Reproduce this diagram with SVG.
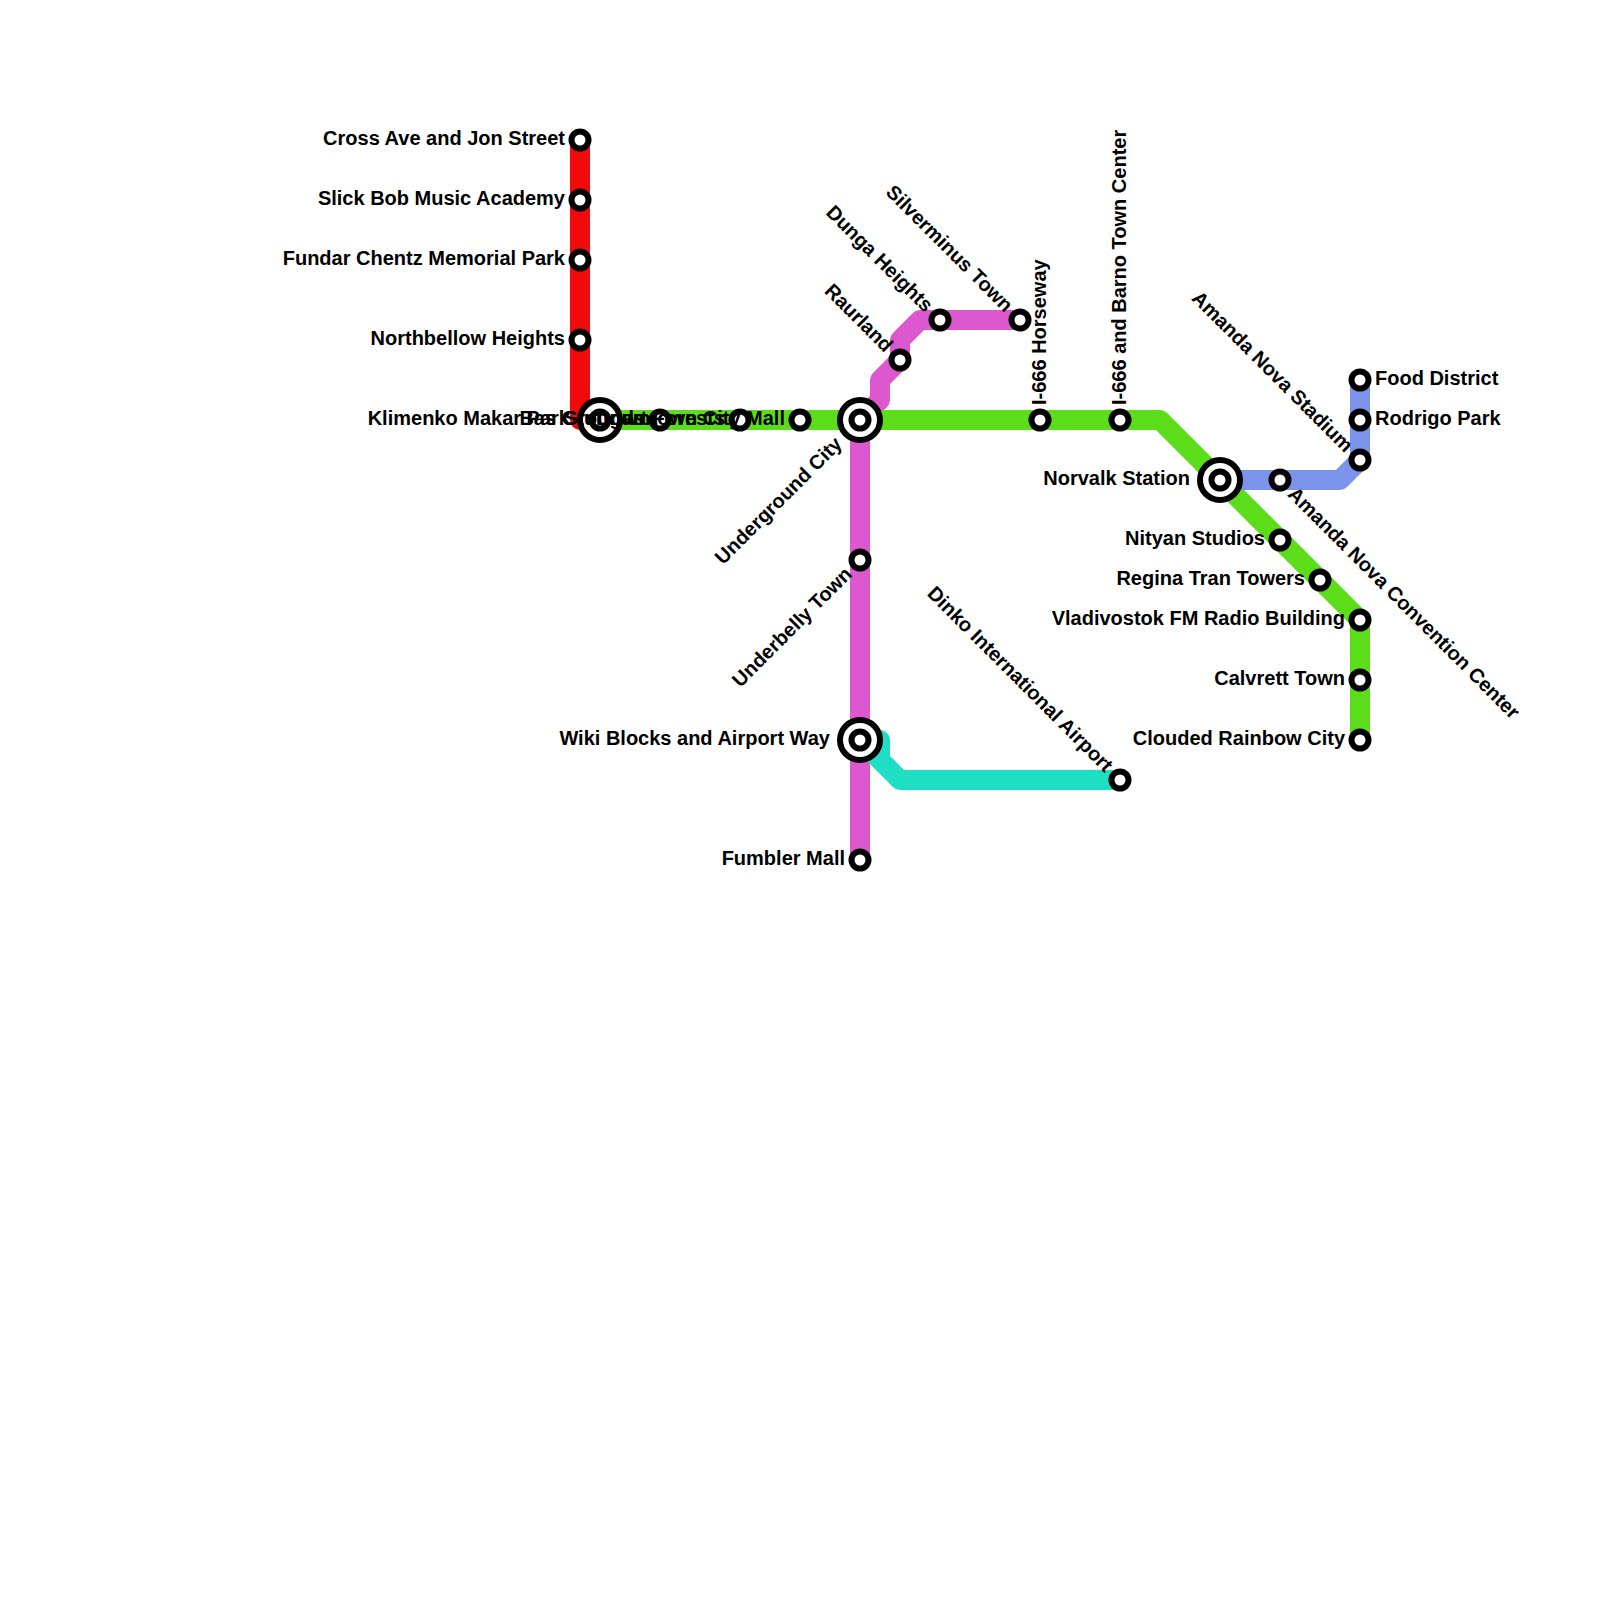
<svg xmlns="http://www.w3.org/2000/svg" width="1600" height="1600" viewBox="0 0 1600 1600">
<style>
.l{fill:none;stroke-width:20;stroke-linejoin:round}
.s{fill:#fff;stroke:#000;stroke-width:6}
.h{fill:#fff;stroke:#000;stroke-width:6}
text{font-family:"Liberation Sans",Arial,sans-serif;font-weight:700;font-size:20px;fill:#000}
.e{text-anchor:end}
</style>
<rect width="1600" height="1600" fill="#fff"/>
<g id="connectors">
<path class="l" stroke="#f00a0a" d="M580,140V420H600"/>
<path class="l" stroke="#dd58ce" d="M860,860V420L880,400V380L900,360V340L920,320H1020"/>
<path class="l" stroke="#5cdd1a" d="M600,420H1160L1360,620V740"/>
<path class="l" stroke="#7b93eb" d="M1220,480H1340L1360,460V380"/>
<path class="l" stroke="#1edfc3" d="M860,740H880V760L900,780H1120M860,740L880,760"/>
</g>
<g id="n1"><circle class="s" cx="580" cy="140" r="8.5"/><text class="e" x="565" y="145">Cross Ave and Jon Street</text></g>
<g id="n2"><circle class="s" cx="580" cy="200" r="8.5"/><text class="e" x="565" y="205">Slick Bob Music Academy</text></g>
<g id="n3"><circle class="s" cx="580" cy="260" r="8.5"/><text class="e" x="565" y="265">Fundar Chentz Memorial Park</text></g>
<g id="n4"><circle class="s" cx="580" cy="340" r="8.5"/><text class="e" x="565" y="345">Northbellow Heights</text></g>
<g id="n6"><text class="e" x="570" y="425">Klimenko Makar Park</text><circle class="h" cx="600" cy="420" r="20"/><circle class="s" cx="600" cy="420" r="8.5"/></g>
<g id="n7"><circle class="s" cx="660" cy="420" r="8.5"/><text class="e" x="645" y="425">Bas Grounds</text></g>
<g id="n8"><circle class="s" cx="740" cy="420" r="8.5"/><text class="e" x="725" y="425">Stuttgart Forests</text></g>
<g id="n9"><circle class="s" cx="800" cy="420" r="8.5"/><text class="e" x="785" y="425">Downtown City Mall</text></g>
<g id="n10"><circle class="h" cx="860" cy="420" r="20"/><circle class="s" cx="860" cy="420" r="8.5"/><text class="e" transform="translate(839,441) rotate(-45)" y="6">Underground City</text></g>
<g id="n11"><circle class="s" cx="860" cy="560" r="8.5"/><text class="e" transform="translate(849,571) rotate(-45)" y="6">Underbelly Town</text></g>
<g id="n12"><circle class="h" cx="860" cy="740" r="20"/><circle class="s" cx="860" cy="740" r="8.5"/><text class="e" x="830" y="745">Wiki Blocks and Airport Way</text></g>
<g id="n13"><circle class="s" cx="860" cy="860" r="8.5"/><text class="e" x="845" y="865">Fumbler Mall</text></g>
<g id="n14"><circle class="s" cx="900" cy="360" r="8.5"/><text class="e" transform="translate(889,349) rotate(45)" y="6">Raurland</text></g>
<g id="n15"><circle class="s" cx="940" cy="320" r="8.5"/><text class="e" transform="translate(929,309) rotate(45)" y="6">Dunga Heights</text></g>
<g id="n16"><circle class="s" cx="1020" cy="320" r="8.5"/><text class="e" transform="translate(1009,309) rotate(45)" y="6">Silverminus Town</text></g>
<g id="n17"><circle class="s" cx="1040" cy="420" r="8.5"/><text transform="translate(1040,405) rotate(-90)" y="6">I-666 Horseway</text></g>
<g id="n18"><circle class="s" cx="1120" cy="420" r="8.5"/><text transform="translate(1120,405) rotate(-90)" y="6">I-666 and Barno Town Center</text></g>
<g id="n19"><circle class="s" cx="1120" cy="780" r="8.5"/><text class="e" transform="translate(1109,769) rotate(45)" y="6">Dinko International Airport</text></g>
<g id="n20"><circle class="h" cx="1220" cy="480" r="20"/><circle class="s" cx="1220" cy="480" r="8.5"/><text class="e" x="1190" y="485">Norvalk Station</text></g>
<g id="n21"><circle class="s" cx="1280" cy="480" r="8.5"/><text transform="translate(1291,491) rotate(45)" y="6">Amanda Nova Convention Center</text></g>
<g id="n22"><circle class="s" cx="1280" cy="540" r="8.5"/><text class="e" x="1265" y="545">Nityan Studios</text></g>
<g id="n23"><circle class="s" cx="1320" cy="580" r="8.5"/><text class="e" x="1305" y="585">Regina Tran Towers</text></g>
<g id="n24"><circle class="s" cx="1360" cy="620" r="8.5"/><text class="e" x="1345" y="625">Vladivostok FM Radio Building</text></g>
<g id="n25"><circle class="s" cx="1360" cy="680" r="8.5"/><text class="e" x="1345" y="685">Calvrett Town</text></g>
<g id="n26"><circle class="s" cx="1360" cy="740" r="8.5"/><text class="e" x="1345" y="745">Clouded Rainbow City</text></g>
<g id="n27"><circle class="s" cx="1360" cy="460" r="8.5"/><text class="e" transform="translate(1349,449) rotate(45)" y="6">Amanda Nova Stadium</text></g>
<g id="n28"><circle class="s" cx="1360" cy="420" r="8.5"/><text x="1375" y="425">Rodrigo Park</text></g>
<g id="n29"><circle class="s" cx="1360" cy="380" r="8.5"/><text x="1375" y="385">Food District</text></g>
</svg>
